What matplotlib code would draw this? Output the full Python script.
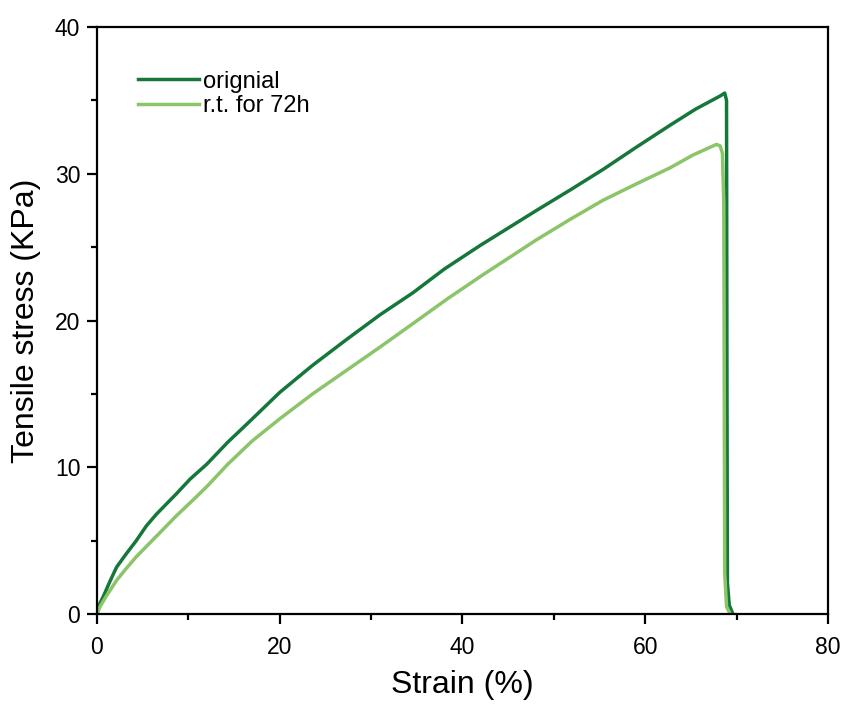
import matplotlib
matplotlib.use("Agg")
import matplotlib.pyplot as plt
from matplotlib.ticker import MultipleLocator

plt.rcParams['font.family'] = ['Liberation Sans', 'DejaVu Sans']

# values
strain_orig = [0, 0.3, 0.7, 1.4, 2.15, 3.2, 4.3, 5.4, 6.5, 8.7, 10.2, 12.0,
               14.3, 16.5, 20.0, 23.5, 27.3, 31.0, 34.6, 38.0, 41.9, 45.0,
               48.1, 51.8, 55.4, 59.0, 62.7, 65.5, 68.2, 68.7, 68.9, 68.95,
               69.0, 69.2, 69.6]
stress_orig = [0, 0.7, 1.2, 2.2, 3.2, 4.1, 5.0, 6.0, 6.8, 8.2, 9.2, 10.2,
               11.7, 13.0, 15.1, 16.9, 18.7, 20.4, 21.9, 23.5, 25.1, 26.3,
               27.5, 28.9, 30.3, 31.8, 33.3, 34.4, 35.3, 35.5, 35.0, 15.0,
               2.1, 0.6, 0]

strain_rt = [0, 0.33, 1.0, 2.15, 3.2, 4.3, 5.4, 6.5, 8.7, 10.9, 12.2, 14.3,
             17.0, 20.0, 23.6, 27.3, 31.0, 34.6, 38.4, 42.2, 48.1, 51.8,
             55.4, 59.0, 62.7, 65.3, 67.8, 68.2, 68.45, 68.6, 68.7, 68.9, 69.3]
stress_rt = [0, 0.5, 1.2, 2.3, 3.1, 3.9, 4.6, 5.3, 6.7, 8.0, 8.8, 10.2,
             11.8, 13.3, 15.0, 16.6, 18.2, 19.8, 21.5, 23.1, 25.5, 26.9,
             28.2, 29.3, 30.4, 31.3, 32.0, 31.9, 31.4, 28.0, 2.8, 0.5, 0]

c_orig = "#16773A"
c_rt = "#8CC46A"

fig = plt.figure(figsize=(8.44, 7.07), dpi=100)
ax = fig.add_axes([0.1149, 0.1315, 0.8661, 0.8303])

ax.plot(strain_orig, stress_orig, color=c_orig, lw=2.5, label="orignial")
ax.plot(strain_rt, stress_rt, color=c_rt, lw=2.5, label="r.t. for 72h")

ax.set_xlim(0, 80)
ax.set_ylim(0, 40)
ax.xaxis.set_major_locator(MultipleLocator(20))
ax.xaxis.set_minor_locator(MultipleLocator(10))
ax.yaxis.set_major_locator(MultipleLocator(10))
ax.yaxis.set_minor_locator(MultipleLocator(5))
ax.tick_params(which="major", direction="out", length=7, width=1.6, labelsize=16.5)
ax.tick_params(which="minor", direction="out", length=4.5, width=1.6)
ax.tick_params(axis="x", which="major", pad=9)
ax.tick_params(axis="y", which="major", pad=5)
for s in ax.spines.values():
    s.set_linewidth(1.6)

ax.set_xlabel("Strain (%)", fontsize=23, labelpad=8)
ax.set_ylabel("Tensile stress (KPa)", fontsize=23, labelpad=10)

ax.legend(loc="upper left", bbox_to_anchor=(0.027, 0.962), frameon=False,
          fontsize=17, handlelength=2.6, handletextpad=0.15, labelspacing=0.12)

fig.savefig("out.png", dpi=100)
